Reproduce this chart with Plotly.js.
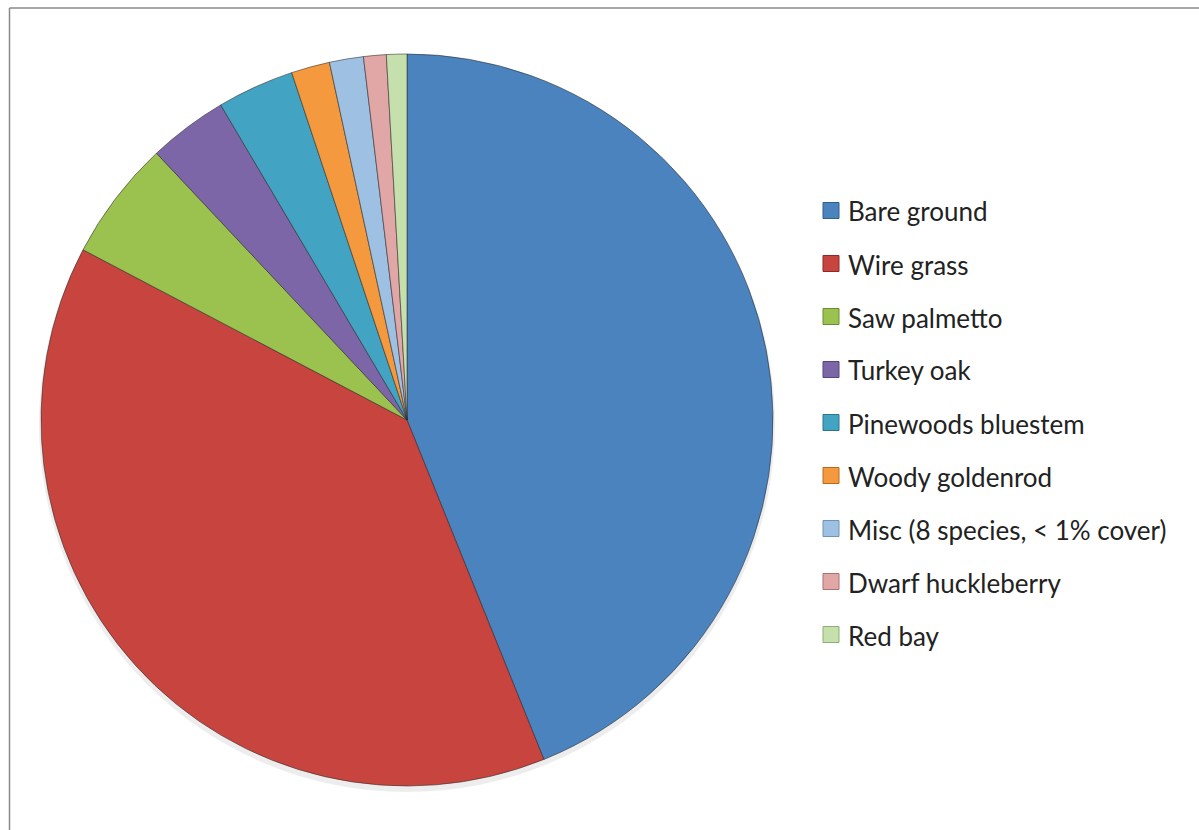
<!DOCTYPE html>
<html>
<head>
<meta charset="utf-8">
<script src="https://cdn.plot.ly/plotly-3.0.1.min.js"></script>
<style>
  html, body { margin: 0; padding: 0; background: #ffffff; }
  #chart { width: 1199px; height: 830px; }
</style>
</head>
<body>
<div id="chart"></div>
<script>
// ---- data ----
const labels = [
  "Bare ground",
  "Wire grass",
  "Saw palmetto",
  "Turkey oak",
  "Pinewoods bluestem",
  "Woody goldenrod",
  "Misc (8 species, < 1% cover)",
  "Dwarf huckleberry",
  "Red bay"
];
const cover = [43.9, 38.8, 5.3, 3.5, 3.4, 1.7, 1.5, 1.0, 0.9];
const colors = [
  "#4a83bd", "#c8453f", "#9bc24f", "#7d66a8", "#42a3c2",
  "#f5993e", "#9ec1e3", "#e1a7a6", "#c6e0ad"
];
const edgeColors = [
  "#2f5f8f", "#8e2b28", "#6c8c32", "#56457a", "#2b7590",
  "#b86a22", "#6e93b8", "#a87270", "#8fae75"
];

// ---- layout helpers ----
const W = 1199, H = 830;
const px = v => v / W;
const py = v => 1 - v / H;

const cx = 407, cy = 420, r = 366;

const legendX = 823, legendTop = 210.5, legendStep = 53, box = 16;

const shapes = [
  // frame (top and left edges visible)
  { type: "line", xref: "paper", yref: "paper", x0: px(9.5), x1: px(1300), y0: py(8), y1: py(8),
    line: { color: "#8a8a8a", width: 1.5 } },
  { type: "line", xref: "paper", yref: "paper", x0: px(9.5), x1: px(9.5), y0: py(8), y1: py(900),
    line: { color: "#8a8a8a", width: 1.5 } },
  // soft shadow below pie
  { type: "circle", xref: "paper", yref: "paper", layer: "below",
    x0: px(cx - r - 2), x1: px(cx + r + 2), y0: py(cy + r + 6), y1: py(cy - r + 2),
    fillcolor: "rgba(0,0,0,0.07)", line: { width: 0 } }
];
const annotations = [];
labels.forEach((lab, i) => {
  const yc = legendTop + i * legendStep;
  shapes.push({
    type: "rect", xref: "paper", yref: "paper",
    x0: px(legendX), x1: px(legendX + box), y0: py(yc + box / 2), y1: py(yc - box / 2),
    fillcolor: colors[i], line: { color: edgeColors[i], width: 1 }
  });
  annotations.push({
    xref: "paper", yref: "paper", x: px(legendX + box + 7), y: py(yc + 1),
    xanchor: "left", yanchor: "middle", showarrow: false, text: lab,
    font: { family: "Lato, 'Open Sans', sans-serif", size: 26, color: "#222222" }
  });
});

const trace = {
  type: "pie",
  labels: labels,
  values: cover,
  sort: false,
  direction: "clockwise",
  rotation: 0,
  textinfo: "none",
  hoverinfo: "label+percent",
  marker: { colors: colors, line: { color: "rgba(40,40,40,0.55)", width: 1 } },
  domain: { x: [px(cx - r), px(cx + r)], y: [py(cy + r), py(cy - r)] },
  showlegend: false
};

const layout = {
  width: W, height: H,
  margin: { l: 0, r: 0, t: 0, b: 0 },
  paper_bgcolor: "#ffffff",
  plot_bgcolor: "#ffffff",
  showlegend: false,
  shapes: shapes,
  annotations: annotations
};

Plotly.newPlot("chart", [trace], layout, { displayModeBar: false, staticPlot: true });
</script>
</body>
</html>
